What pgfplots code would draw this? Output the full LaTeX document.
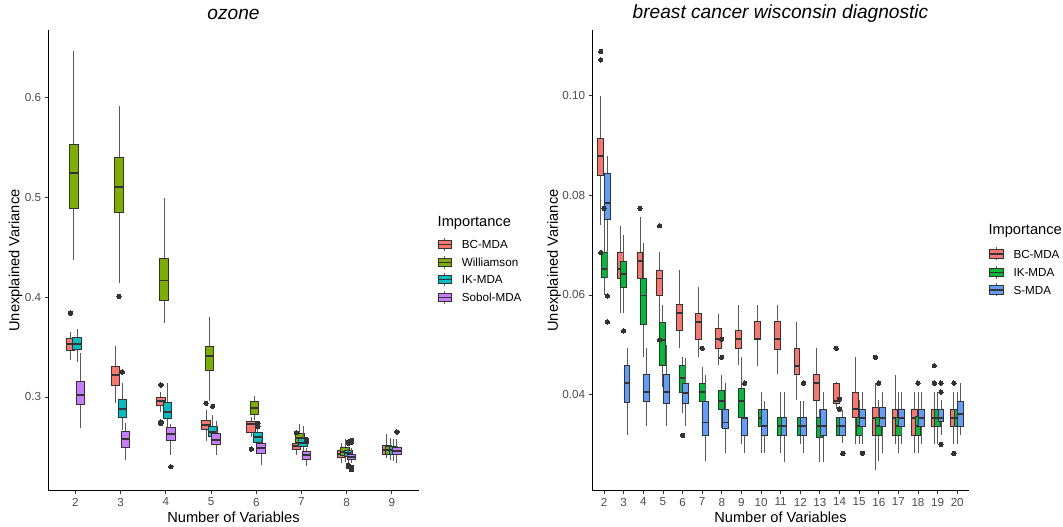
\documentclass[border=0pt]{standalone}
\usepackage{pgfplots}
\pgfplotsset{compat=1.18}
\usepackage{fontspec}
\setmainfont{Liberation Sans}

\definecolor{cBC}{HTML}{F8766D}
\definecolor{cW}{HTML}{7CAE00}
\definecolor{cIKa}{HTML}{00BFC4}
\definecolor{cSob}{HTML}{C77CFF}
\definecolor{cIKb}{HTML}{00BA38}
\definecolor{cS}{HTML}{619CFF}
\definecolor{tickgrey}{HTML}{4D4D4D}
\definecolor{outl}{HTML}{333333}

\pgfplotsset{
  whisk/.style={draw=black!65, line width=0.9bp, no marks},
  boxs/.style={draw=outl, line width=1bp, no marks},
  med/.style={draw=outl, line width=1.9bp, no marks},
  outs/.style={only marks, mark=*, mark size=2.2bp,
    mark options={fill=outl, draw=outl, line width=0bp}},
  ggaxis/.style={
    scale only axis, anchor=south west,
    axis x line*=bottom, axis y line*=left,
    axis line style={-, line width=0.9bp, black},
    tick align=outside, major tick length=3.7bp,
    tick style={line width=0.8bp, black!80},
    xtick pos=bottom, ytick pos=left,
    ticklabel style={font=\fontsize{11.7}{12}\selectfont, text=tickgrey},
    /pgf/number format/assume math mode=true,
    scaled y ticks=false, clip=false}
}
% box: colour, position, lower whisker, lower quartile, median, upper quartile, upper whisker
\newcommand\bp[7]{%
  \pgfmathsetmacro\xa{#2-\bw}\pgfmathsetmacro\xb{#2+\bw}%
  \edef\tmp{\noexpand\addplot[whisk] coordinates {(#2,#3) (#2,#4)};
    \noexpand\addplot[whisk] coordinates {(#2,#6) (#2,#7)};
    \noexpand\addplot[boxs, fill=#1] coordinates {(\xa,#4) (\xb,#4) (\xb,#6) (\xa,#6)} -- cycle;
    \noexpand\addplot[med] coordinates {(\xa,#5) (\xb,#5)};}%
  \tmp}
\newcommand\lkey[4]{%
  \draw[black!65, line width=0.9bp] ({(#2+#3)/2*1bp},{#4*1bp-6.5bp})--({(#2+#3)/2*1bp},{#4*1bp+6.5bp});
  \draw[fill=#1, draw=outl, line width=1bp] (#2bp,{#4*1bp-4.2bp}) rectangle (#3bp,{#4*1bp+4.2bp});
  \draw[outl, line width=1.3bp] (#2bp,#4bp)--(#3bp,#4bp);}

\begin{document}
\begin{tikzpicture}
\path[use as bounding box] (0,0) rectangle (1063bp,527bp);

% ---------------- ozone ----------------
\def\bw{0.095}
\begin{axis}[ggaxis, at={(48.3bp,36.3bp)}, width=370.7bp, height=460.7bp,
  xmin=1.4, xmax=9.6, ymin=0.206, ymax=0.668,
  xtick={2,...,9}, ytick={0.3,0.4,0.5,0.6},
  yticklabel style={/pgf/number format/.cd, fixed, fixed zerofill, precision=1}]
\bp{cBC}{1.89}{0.337}{0.347}{0.353}{0.359}{0.365}
\bp{cW}{1.963}{0.4375}{0.489}{0.525}{0.553}{0.647}
\bp{cIKa}{2.037}{0.3355}{0.348}{0.353}{0.360}{0.368}
\bp{cSob}{2.11}{0.2686}{0.2927}{0.3017}{0.316}{0.344}

\bp{cBC}{2.89}{0.294}{0.311}{0.322}{0.331}{0.351}
\bp{cW}{2.963}{0.414}{0.485}{0.511}{0.540}{0.592}
\bp{cIKa}{3.037}{0.267}{0.2796}{0.288}{0.297}{0.314}
\bp{cSob}{3.11}{0.2367}{0.249}{0.2575}{0.265}{0.2736}

\bp{cBC}{3.89}{0.285}{0.291}{0.2963}{0.2997}{0.305}
\bp{cW}{3.963}{0.3746}{0.397}{0.4168}{0.439}{0.500}
\bp{cIKa}{4.037}{0.265}{0.2786}{0.2853}{0.294}{0.314}
\bp{cSob}{4.11}{0.2418}{0.256}{0.263}{0.2696}{0.273}

\bp{cBC}{4.89}{0.256}{0.2676}{0.272}{0.2762}{0.287}
\bp{cW}{4.963}{0.296}{0.327}{0.341}{0.351}{0.3806}
\bp{cIKa}{5.037}{0.252}{0.2608}{0.265}{0.2702}{0.282}
\bp{cSob}{5.11}{0.2418}{0.2528}{0.2568}{0.2635}{0.276}

\bp{cBC}{5.89}{0.260}{0.2642}{0.2726}{0.275}{0.280}
\bp{cW}{5.963}{0.277}{0.2826}{0.2887}{0.2953}{0.301}
\bp{cIKa}{6.037}{0.250}{0.2545}{0.2595}{0.2639}{0.268}
\bp{cSob}{6.11}{0.2317}{0.2435}{0.2485}{0.2535}{0.2568}

\bp{cBC}{6.89}{0.2418}{0.2475}{0.2505}{0.2535}{0.2566}
\bp{cW}{6.963}{0.2505}{0.2541}{0.2592}{0.2635}{0.2729}
\bp{cIKa}{7.037}{0.245}{0.2501}{0.2541}{0.2585}{0.2709}
\bp{cSob}{7.11}{0.2307}{0.2374}{0.2414}{0.2451}{0.2485}

\bp{cBC}{7.89}{0.2334}{0.2395}{0.2428}{0.2468}{0.2541}
\bp{cW}{7.963}{0.235}{0.2408}{0.2445}{0.2491}{0.2575}
\bp{cIKa}{8.037}{0.234}{0.2401}{0.2435}{0.2468}{0.250}
\bp{cSob}{8.11}{0.2334}{0.2368}{0.2398}{0.2428}{0.2485}

\bp{cBC}{8.89}{0.2384}{0.2428}{0.2468}{0.2511}{0.2625}
\bp{cW}{8.963}{0.2367}{0.2428}{0.2468}{0.2501}{0.2585}
\bp{cIKa}{9.037}{0.236}{0.2428}{0.2468}{0.2501}{0.2575}
\bp{cSob}{9.11}{0.2338}{0.2428}{0.2458}{0.2491}{0.2575}

% outliers
\addplot[outs] coordinates {
  (1.89,0.384) (2.963,0.401) (3.037,0.325)
  (3.89,0.312) (3.89,0.275) (3.89,0.2736) (4.11,0.230)
  (4.89,0.2937) (5.037,0.2907)
  (5.89,0.2478) (6.037,0.2736) (6.037,0.2705)
  (6.89,0.2642) (7.11,0.2575) (7.11,0.2552)
  (8.037,0.2551) (8.037,0.2535) (8.037,0.2317) (8.037,0.230)
  (8.11,0.2566) (8.11,0.2545) (8.11,0.2294) (8.11,0.227)
  (9.11,0.2649)};
\end{axis}

% ---------------- breast cancer ----------------
\def\bw{0.15}
\begin{axis}[ggaxis, at={(592.3bp,36.3bp)}, width=376.7bp, height=460.7bp,
  xmin=1.4, xmax=20.6, ymin=0.0207, ymax=0.1132,
  xtick={2,...,20}, ytick={0.04,0.06,0.08,0.10},
  yticklabel style={/pgf/number format/.cd, fixed, fixed zerofill, precision=2}]
\bp{cBC}{1.83}{0.0740}{0.0839}{0.0879}{0.0914}{0.1000}
\bp{cIKb}{2}{0.060}{0.0635}{0.0652}{0.0686}{0.0754}
\bp{cS}{2.17}{0.0635}{0.0752}{0.0784}{0.0844}{0.0879}

\bp{cBC}{2.83}{0.0563}{0.0633}{0.0652}{0.0686}{0.0738}
\bp{cIKb}{3}{0.0563}{0.0615}{0.0642}{0.0668}{0.0720}
\bp{cS}{3.17}{0.0319}{0.0385}{0.0423}{0.0458}{0.0493}

\bp{cBC}{3.83}{0.0585}{0.0633}{0.0669}{0.0686}{0.0756}
\bp{cIKb}{4}{0.0475}{0.0541}{0.0599}{0.0633}{0.0704}
\bp{cS}{4.17}{0.0336}{0.0387}{0.0406}{0.0441}{0.0493}

\bp{cBC}{4.83}{0.0546}{0.0598}{0.0633}{0.0650}{0.0686}
\bp{cIKb}{5}{0.0416}{0.0458}{0.0510}{0.0545}{0.058}
\bp{cS}{5.17}{0.0336}{0.0383}{0.0406}{0.0441}{0.050}

\bp{cBC}{5.83}{0.0493}{0.0528}{0.0563}{0.0581}{0.065}
\bp{cIKb}{6}{0.0363}{0.0405}{0.0433}{0.0458}{0.0476}
\bp{cS}{6.17}{0.0336}{0.0383}{0.0403}{0.0423}{0.0473}

\bp{cBC}{6.83}{0.0476}{0.0511}{0.0546}{0.0563}{0.0615}
\bp{cIKb}{7}{0.0349}{0.0387}{0.0406}{0.0423}{0.0456}
\bp{cS}{7.17}{0.0266}{0.0318}{0.0344}{0.0387}{0.044}

\bp{cBC}{7.83}{0.046}{0.0493}{0.0511}{0.0532}{0.0562}
\bp{cIKb}{8}{0.0333}{0.0371}{0.0388}{0.0409}{0.044}
\bp{cS}{8.17}{0.0282}{0.0331}{0.0344}{0.0371}{0.0423}

\bp{cBC}{8.83}{0.046}{0.0493}{0.0511}{0.0528}{0.058}
\bp{cIKb}{9}{0.0300}{0.0353}{0.0388}{0.0412}{0.0475}
\bp{cS}{9.17}{0.0282}{0.0318}{0.0353}{0.0353}{0.0353}

\bp{cBC}{9.83}{0.0458}{0.0511}{0.0511}{0.0546}{0.058}
\bp{cIKb}{10}{0.0282}{0.0336}{0.0353}{0.0371}{0.0405}
\bp{cS}{10.17}{0.0282}{0.0318}{0.0336}{0.0371}{0.0387}

\bp{cBC}{10.83}{0.0441}{0.0490}{0.0511}{0.0546}{0.058}
\bp{cIKb}{11}{0.0282}{0.0318}{0.0336}{0.0353}{0.0405}
\bp{cS}{11.17}{0.0264}{0.0318}{0.0336}{0.0353}{0.0405}

\bp{cBC}{11.83}{0.0389}{0.0441}{0.0458}{0.0493}{0.0546}
\bp{cIKb}{12}{0.030}{0.0318}{0.0336}{0.0353}{0.0387}
\bp{cS}{12.17}{0.0282}{0.0318}{0.0336}{0.0353}{0.0387}

\bp{cBC}{12.83}{0.0336}{0.0388}{0.0423}{0.0441}{0.0493}
\bp{cIKb}{13}{0.0264}{0.0314}{0.0336}{0.0353}{0.0371}
\bp{cS}{13.17}{0.0264}{0.0318}{0.0336}{0.0371}{0.0405}

\bp{cBC}{13.83}{0.0371}{0.0383}{0.0388}{0.0423}{0.0425}
\bp{cIKb}{14}{0.0318}{0.0318}{0.0336}{0.0353}{0.0353}
\bp{cS}{14.17}{0.0302}{0.0318}{0.0336}{0.0353}{0.0369}

\bp{cBC}{14.83}{0.030}{0.0353}{0.0371}{0.0405}{0.0475}
\bp{cIKb}{15}{0.030}{0.0318}{0.0336}{0.0353}{0.0389}
\bp{cS}{15.17}{0.030}{0.0336}{0.0353}{0.0371}{0.0405}

\bp{cBC}{15.83}{0.0249}{0.0318}{0.0353}{0.0375}{0.0423}
\bp{cIKb}{16}{0.0266}{0.0318}{0.0336}{0.0353}{0.0389}
\bp{cS}{16.17}{0.0282}{0.0336}{0.0353}{0.0375}{0.0405}

\bp{cBC}{16.83}{0.030}{0.0318}{0.0353}{0.0371}{0.0440}
\bp{cIKb}{17}{0.0282}{0.0318}{0.0336}{0.0353}{0.0405}
\bp{cS}{17.17}{0.030}{0.0336}{0.0353}{0.0371}{0.0405}

\bp{cBC}{17.83}{0.0282}{0.0318}{0.0353}{0.0371}{0.0405}
\bp{cIKb}{18}{0.0282}{0.0318}{0.0336}{0.0356}{0.0405}
\bp{cS}{18.17}{0.030}{0.0336}{0.0353}{0.0371}{0.0405}

\bp{cBC}{18.83}{0.030}{0.0336}{0.0353}{0.0371}{0.0405}
\bp{cIKb}{19}{0.030}{0.0336}{0.0353}{0.0371}{0.0405}
\bp{cS}{19.17}{0.0318}{0.0345}{0.0353}{0.0371}{0.0389}

\bp{cBC}{19.83}{0.030}{0.0336}{0.0353}{0.0371}{0.0405}
\bp{cIKb}{20}{0.030}{0.0336}{0.0353}{0.0371}{0.0405}
\bp{cS}{20.17}{0.0318}{0.0336}{0.0361}{0.0387}{0.0423}

% outliers
\addplot[outs] coordinates {
  (1.83,0.1089) (1.83,0.1072) (1.83,0.0685) (2,0.0774) (2.17,0.0598) (2.17,0.0546)
  (3,0.0528) (3.83,0.0774) (4.83,0.0739) (4.83,0.051) (6,0.0318) (7,0.0493)
  (8,0.0511) (8,0.0475) (9.17,0.0423) (12.17,0.0423) (13.83,0.0493)
  (14,0.0391) (14,0.0371) (14.17,0.0282) (15.17,0.0282) (15.83,0.0475)
  (16,0.0423) (18,0.0423) (18.83,0.0458) (18.83,0.0423)
  (19.17,0.0423) (19.17,0.0405) (19.17,0.030) (19.83,0.0423) (19.83,0.0282)};
\end{axis}

% titles and axis labels
\node[font=\fontsize{19.2}{20}\selectfont\itshape] at (233.5bp,513bp) {ozone};
\node[font=\fontsize{19.2}{20}\selectfont\itshape] at (780.5bp,513bp) {breast cancer wisconsin diagnostic};
\node[font=\fontsize{14.7}{15}\selectfont] at (233.5bp,10bp) {Number of Variables};
\node[font=\fontsize{14.7}{15}\selectfont] at (780.5bp,10bp) {Number of Variables};
\node[font=\fontsize{14.7}{15}\selectfont, rotate=90] at (15.5bp,266.5bp) {Unexplained Variance};
\node[font=\fontsize{14.7}{15}\selectfont, rotate=90] at (554bp,266.5bp) {Unexplained Variance};

% legends
\node[font=\fontsize{14.7}{15}\selectfont, anchor=west, inner sep=0pt] at (437.5bp,303.7bp) {Importance};
\lkey{cBC}{438.3}{451.3}{282.7}
\lkey{cW}{438.3}{451.3}{264.7}
\lkey{cIKa}{438.3}{451.3}{247.3}
\lkey{cSob}{438.3}{451.3}{229.3}
\begin{scope}[every node/.style={font=\fontsize{11.7}{12}\selectfont, anchor=west, inner sep=0pt}]
\node at (461.7bp,282.7bp) {BC-MDA};
\node at (461.7bp,264.7bp) {Williamson};
\node at (461.7bp,247.3bp) {IK-MDA};
\node at (461.7bp,229.3bp) {Sobol-MDA};
\end{scope}

\node[font=\fontsize{14.7}{15}\selectfont, anchor=west, inner sep=0pt] at (988.3bp,296.3bp) {Importance};
\lkey{cBC}{989.3}{1003.3}{273}
\lkey{cIKb}{989.3}{1003.3}{254.7}
\lkey{cS}{989.3}{1003.3}{237}
\begin{scope}[every node/.style={font=\fontsize{11.7}{12}\selectfont, anchor=west, inner sep=0pt}]
\node at (1013.3bp,273bp) {BC-MDA};
\node at (1013.3bp,254.7bp) {IK-MDA};
\node at (1013.3bp,237bp) {S-MDA};
\end{scope}
\end{tikzpicture}
\end{document}
